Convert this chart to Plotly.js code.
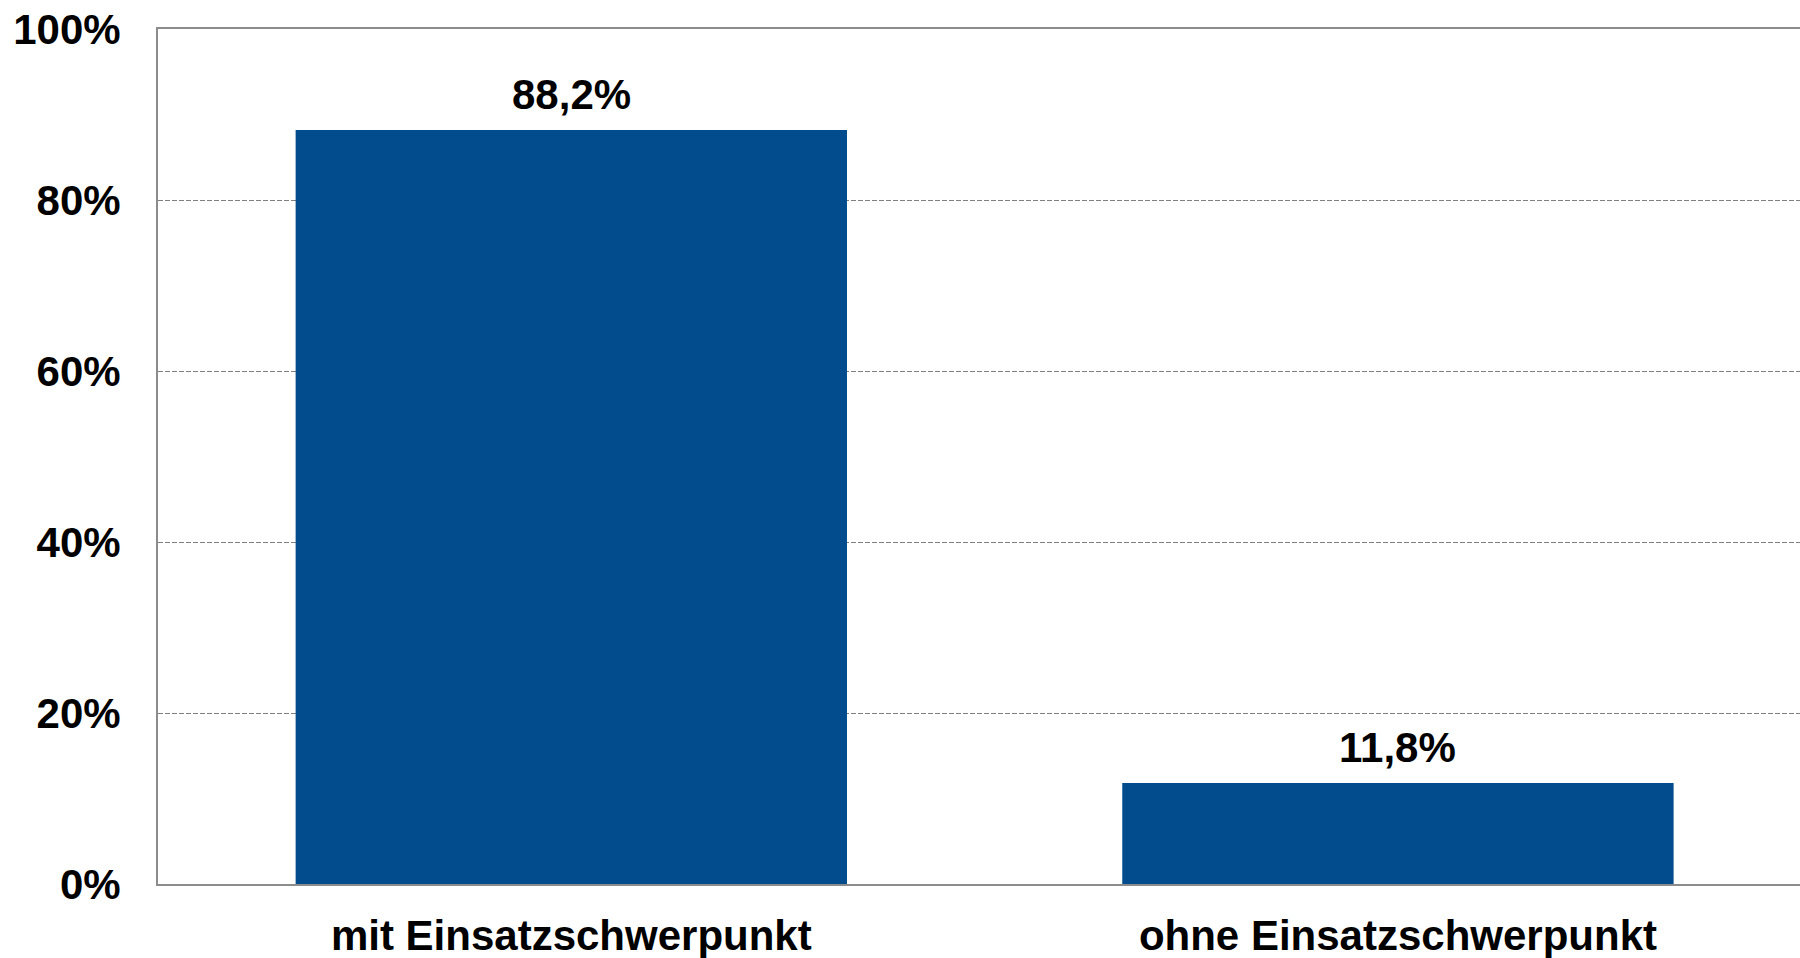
<!DOCTYPE html>
<html>
<head>
<meta charset="utf-8">
<script src="https://cdn.plot.ly/plotly-3.0.1.min.js"></script>
<style>html,body{margin:0;padding:0;background:#fff;}#chart{width:1800px;height:958px;}</style>
</head>
<body>
<div id="chart"></div>
<script>
const categories = ["mit Einsatzschwerpunkt", "ohne Einsatzschwerpunkt"];
const values = [88.2, 11.8];
const yTickValues = [0, 20, 40, 60, 80, 100];

const fmt = v => v.toFixed(1).replace('.', ',') + '%';
const font = {family: "Liberation Sans, Arial, sans-serif", size: 42, color: "#000", weight: "bold"};

const trace = {
  type: "bar",
  x: categories,
  y: values,
  marker: {color: "#024C8D", line: {width: 0}},
  hoverinfo: "skip"
};

const annotations = categories.map((c, i) => ({
  x: c, y: values[i], xref: "x", yref: "y",
  text: fmt(values[i]), showarrow: false,
  yanchor: "bottom", yshift: 10, font: font
}));

const layout = {
  width: 1800, height: 958,
  margin: {l: 158, r: 0, t: 29, b: 74, pad: 0},
  paper_bgcolor: "#fff", plot_bgcolor: "#fff",
  showlegend: false,
  bargap: 0.333,
  font: font,
  xaxis: {
    type: "category",
    range: [-0.5, 1.4864],
    showline: true, linecolor: "#8c8c8c", linewidth: 2, mirror: true,
    showgrid: false, zeroline: false, ticks: "",
    tickfont: font, ticklabelstandoff: 14
  },
  yaxis: {
    range: [0, 100],
    tickvals: yTickValues,
    ticktext: yTickValues.map(v => v + "%"),
    showline: true, linecolor: "#8c8c8c", linewidth: 2, mirror: false,
    showgrid: true, gridcolor: "#808080", griddash: "5px,2px", gridwidth: 1,
    zeroline: false, ticks: "",
    tickfont: font, ticklabelstandoff: 27
  },
  annotations: annotations
};

Plotly.newPlot("chart", [trace], layout, {displayModeBar: false, staticPlot: true});
</script>
</body>
</html>
